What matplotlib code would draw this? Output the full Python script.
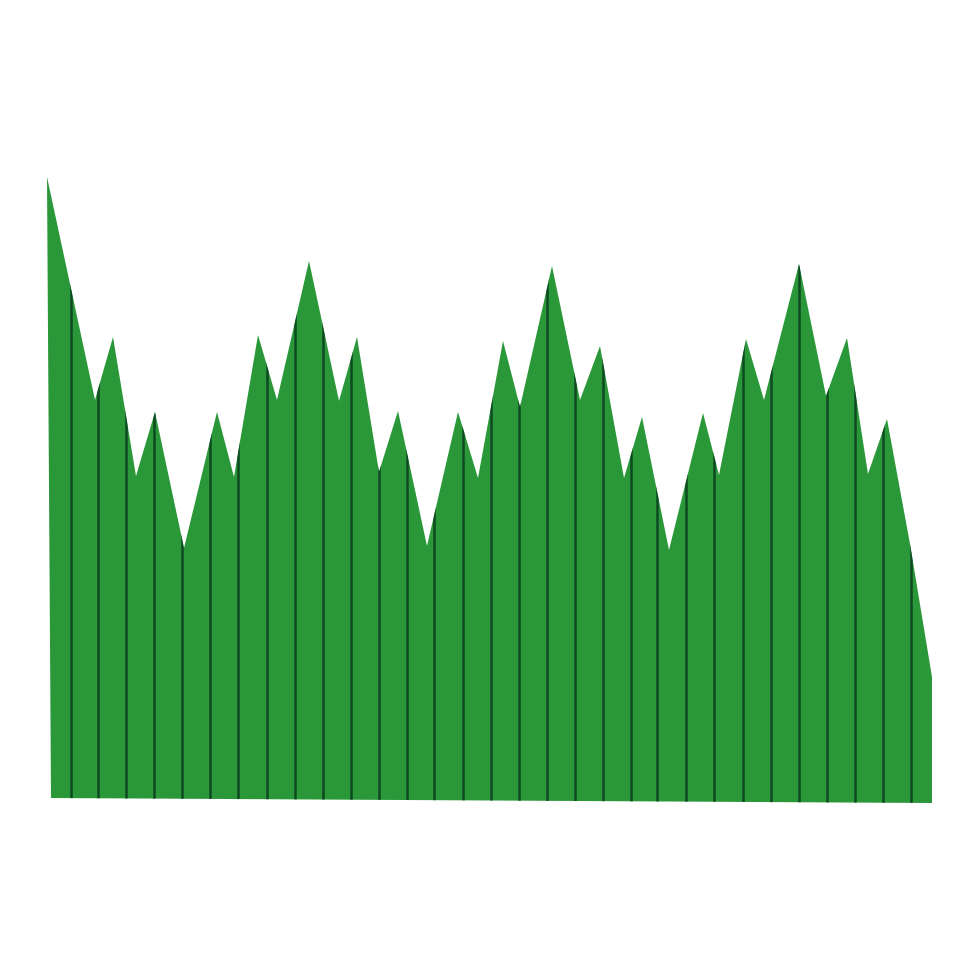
import numpy as np
import matplotlib
matplotlib.use("Agg")
import matplotlib.pyplot as plt

# outline of the top edge (x position, height above the base)
edge_x = [47, 95, 113, 136, 155, 184, 217, 234, 258, 277, 309, 339, 357, 379,
          398, 427, 458, 478, 503, 520, 552, 580, 600, 624, 642, 669, 703, 719,
          746, 764, 799, 826, 847, 868, 887, 910, 932]
edge_h = [623, 400, 463, 324, 388, 252, 388, 323, 465, 400, 539, 399, 463, 328,
          389, 254, 388, 322, 459, 393, 534, 400, 454, 322, 383, 250, 387, 325,
          461, 400, 536, 404, 462, 326, 381, 256, 123]

# base corners (right, left)
base_x = [932, 51]
base_h = [-3, 2]

# vertical ribs
rib_x = [71, 98, 126, 154, 182, 210, 238, 267, 295, 323, 351, 379, 407, 434,
         463, 491, 519, 547, 575, 603, 631, 657, 686, 714, 743, 771, 799, 827,
         855, 883, 911]

fig = plt.figure(figsize=(9.8, 9.8), dpi=100)
ax = fig.add_axes([0, 0, 1, 1])
ax.set_xlim(0, 980)
ax.set_ylim(-180, 800)
ax.axis("off")

#draw the filled shape
poly = ax.fill(edge_x + base_x, edge_h + base_h, color="#2a9739", lw=0)[0]

#draw ribs clipped to the shape
ribs = ax.vlines(rib_x, -10, 700, colors="#0e4a21", linewidth=1.8)
ribs.set_clip_path(poly)

fig.savefig("out.png", dpi=100, facecolor="white")
